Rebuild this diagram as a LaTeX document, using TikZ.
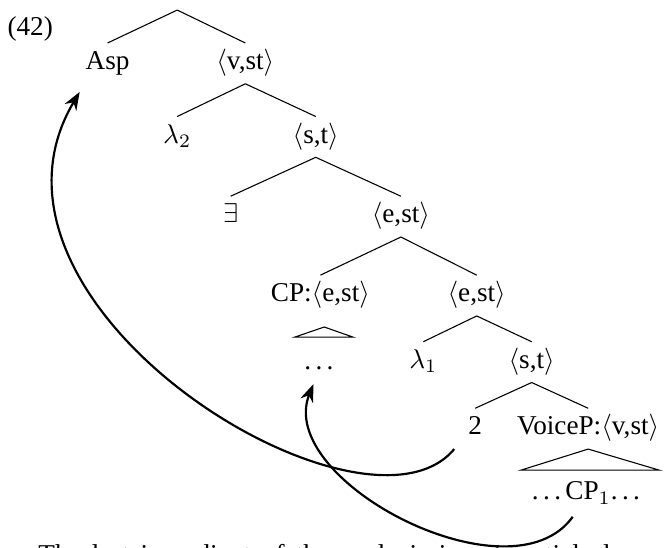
\documentclass[tikz,border=0pt]{standalone}
\usepackage{fontspec}
\setmainfont{Liberation Serif}
\usetikzlibrary{arrows.meta}

\newcommand\lbldots{.\kern1.6pt.\kern1.6pt.\kern1.6pt}

\begin{document}
\begin{tikzpicture}[
  lbl/.style={anchor=base, inner sep=2pt, text height=7.6pt, text depth=3pt},
  mv/.style={thick, -{Stealth}}
]
\useasboundingbox (0,0) rectangle (8.58,-7.08);
\clip (0,0) rectangle (8.58,-7.08);

\node[lbl] (exnum) at (0.39,-0.46) {(42)};
\coordinate (root) at (2.29,-0.13);
\node[lbl] (asp)   at (1.39,-0.90) {Asp};
\node[lbl] (vst)   at (3.17,-0.90) {$\langle$v,st$\rangle$};
\node[lbl] (lamb2) at (2.29,-1.85) {$\lambda_2$};
\node[lbl] (st1)   at (4.08,-1.85) {$\langle$s,t$\rangle$};
\node[lbl] (ex)    at (2.98,-2.88) {$\exists$};
\node[lbl] (est1)  at (5.18,-2.88) {$\langle$e,st$\rangle$};
\node[lbl] (cp)    at (4.14,-3.90) {CP:$\langle$e,st$\rangle$};
\node[lbl] (est2)  at (6.16,-3.90) {$\langle$e,st$\rangle$};
\node[lbl] (dots)  at (4.15,-4.78) {\lbldots};
\node[lbl] (lamb1) at (5.47,-4.76) {$\lambda_1$};
\node[lbl] (st2)   at (6.87,-4.76) {$\langle$s,t$\rangle$};
\node[lbl] (two)   at (6.14,-5.62) {2};
\node[lbl] (voice) at (7.60,-5.62) {VoiceP:$\langle$v,st$\rangle$};
\node[lbl] (cp1)   at (7.60,-6.46) {\lbldots CP$_1$\lbldots};
\node[anchor=base west, inner sep=0pt] (nexttext) at (0.49,-7.28)
  {\makebox[232pt][s]{The last ingredient of the analysis is existential closure}};

% tree
\draw (root) -- (asp.north);
\draw (root) -- (vst.north);
\draw (vst.south) -- (lamb2.north);
\draw (vst.south) -- (st1.north);
\draw (st1.south) -- (ex.north);
\draw (st1.south) -- (est1.north);
\draw (est1.south) -- (cp.north);
\draw (est1.south) -- (est2.north);
\draw (est2.south) -- (lamb1.north);
\draw (est2.south) -- (st2.north);
\draw (st2.south) -- (two.north);
\draw (st2.south) -- (voice.north);

% roofs
\draw ([xshift=0.04cm,yshift=0.21cm]dots.north) -- ([xshift=-0.34cm,yshift=0.08cm]dots.north)
  -- ([xshift=0.41cm,yshift=0.08cm]dots.north) -- cycle;
\draw (voice.south) -- ([xshift=-0.87cm,yshift=0.04cm]cp1.north)
  -- ([xshift=0.92cm,yshift=0.04cm]cp1.north) -- cycle;

% movement
\draw[mv] ([xshift=-3pt]two.south west) .. controls +(-1.16,-1.40) and +(-1.65,-2.77) .. ([yshift=-3pt]asp.south west);
\draw[mv] ([xshift=-0.2cm,yshift=-1pt]cp1.south) .. controls +(-0.8,-1.12) and +(-0.5,-1.25) .. ([xshift=-0.1cm]dots.south);
\end{tikzpicture}
\end{document}
